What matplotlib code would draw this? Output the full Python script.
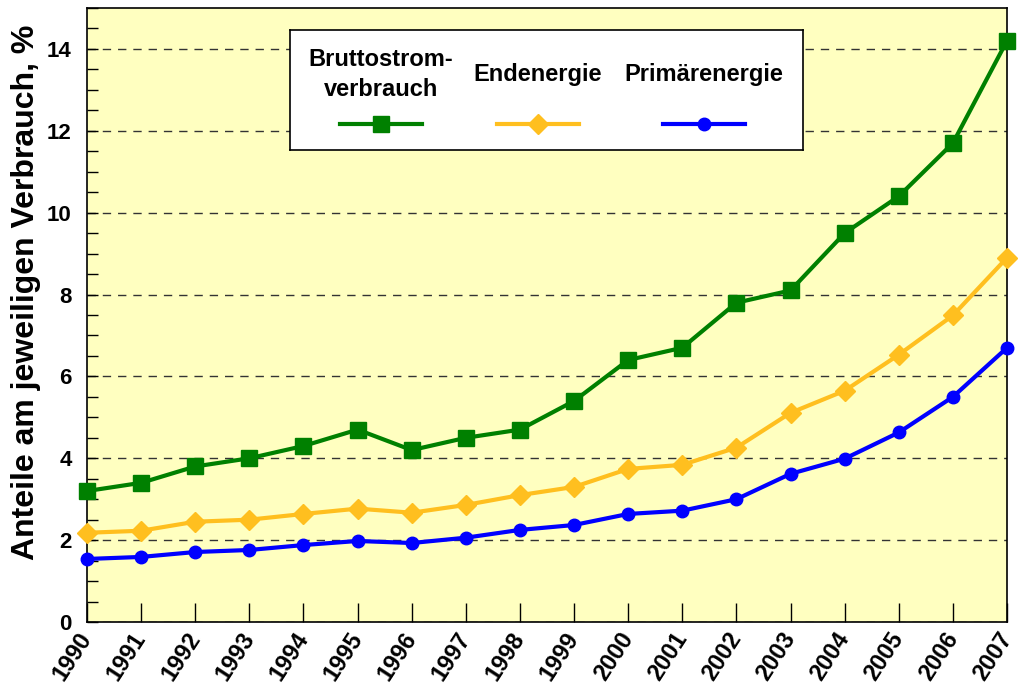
import numpy as np
import matplotlib.pyplot as plt
from matplotlib.ticker import MultipleLocator

plt.rcParams['font.family'] = ['Liberation Sans', 'DejaVu Sans']
plt.rcParams['font.weight'] = 'bold'

years = list(range(1990, 2008))
brutto = [3.2, 3.4, 3.8, 4.0, 4.3, 4.7, 4.2, 4.5, 4.7, 5.4, 6.4, 6.7, 7.8, 8.1, 9.5, 10.4, 11.7, 14.2]
endenergie = [2.18, 2.23, 2.45, 2.5, 2.64, 2.77, 2.67, 2.86, 3.1, 3.3, 3.74, 3.84, 4.26, 5.11, 5.65, 6.53, 7.49, 8.9]
primaer = [1.54, 1.59, 1.71, 1.76, 1.88, 1.98, 1.93, 2.06, 2.25, 2.37, 2.64, 2.72, 3.0, 3.62, 3.99, 4.63, 5.5, 6.7]

labels = ["Bruttostrom-\nverbrauch", "Endenergie", "Primärenergie"]
colors = ["#008000", "#FFBF1F", "#0000FF"]
markers = ["s", "D", "o"]
msizes = [12, 10, 9]

fig = plt.figure(figsize=(10.32, 6.88), dpi=100)
ax = fig.add_axes([0.0843, 0.0959, 0.8915, 0.8925])
ax.set_facecolor("#FFFFC0")

for vals, c, m, ms in zip([brutto, endenergie, primaer], colors, markers, msizes):
    ax.plot(years, vals, color=c, lw=3, marker=m, ms=ms, mec=c, clip_on=False, zorder=3)

ax.set_xlim(1990, 2007)
ax.set_ylim(0, 15)
ax.set_xticks(years)
ax.set_xticklabels([str(y) for y in years], rotation=57, ha='right', va='center',
                   rotation_mode='anchor', fontsize=17, fontweight='bold')
ax.yaxis.set_minor_locator(MultipleLocator(0.5))
ax.set_yticks(range(0, 16, 2))
ax.set_yticklabels([str(v) for v in range(0, 16, 2)], fontsize=16, fontweight='bold')
ax.tick_params(axis='x', direction='in', length=14, width=1, pad=9)
ax.tick_params(axis='y', which='both', direction='in', length=8, width=1, pad=11)
ax.yaxis.grid(True, which='major', linestyle=(0, (6, 5)), color='#333333', lw=1)
ax.set_ylabel("Anteile am jeweiligen Verbrauch, %", fontsize=23, fontweight='bold')
ax.yaxis.set_label_coords(-0.050, 0.537)
for s in ax.spines.values():
    s.set_linewidth(1.2)

# legend box, labels above the line samples
lg = fig.add_axes([290 / 1032, 1 - 150 / 688, 513 / 1032, 120 / 688])
lg.set_xlim(0, 1)
lg.set_ylim(0, 1)
lg.set_xticks([])
lg.set_yticks([])
lg.set_facecolor("white")
for s in lg.spines.values():
    s.set_linewidth(1.2)
centers = [0.177, 0.483, 0.807]
for cx, lab, c, m, ms in zip(centers, labels, colors, markers, msizes):
    lg.plot([cx - 0.08, cx + 0.08], [0.22, 0.22], color=c, lw=3)
    lg.plot([cx], [0.22], color=c, marker=m, ms=ms, mec=c)
    lg.text(cx, 0.63, lab, ha='center', va='center', fontsize=17, fontweight='bold',
            linespacing=1.35)

fig.savefig("out.png", dpi=100)
